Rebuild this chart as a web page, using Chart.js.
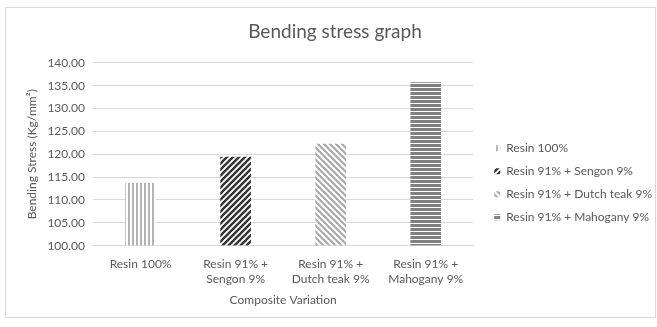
<!DOCTYPE html>
<html>
<head>
<meta charset="utf-8">
<script src="https://cdn.jsdelivr.net/npm/chart.js@4.4.0/dist/chart.umd.min.js"></script>
<style>
  html, body { margin: 0; padding: 0; background: #fff; }
  #chart { position: absolute; left: 0; top: 0; display: block; }
  #frame {
    position: absolute; left: 5px; top: 7px;
    width: 651px; height: 311px; box-sizing: border-box;
    border: 1px solid #d9d9d9; pointer-events: none;
  }
</style>
</head>
<body>
<canvas id="chart" width="657" height="327"></canvas>
<div id="frame"></div>
<script>
// Categories shown on the x axis (multi-line labels)
const categories = [
  ['Resin 100%'],
  ['Resin 91% +', 'Sengon 9%'],
  ['Resin 91% +', 'Dutch teak 9%'],
  ['Resin 91% +', 'Mahogany 9%']
];
// Series names for the legend
const seriesNames = [
  'Resin 100%',
  'Resin 91% + Sengon 9%',
  'Resin 91% + Dutch teak 9%',
  'Resin 91% + Mahogany 9%'
];
// Bending stress values (Kg/mm²), one per composite
const bendingStress = [113.7, 119.4, 122.2, 135.7];
// Y axis range and step
const yMin = 100, yMax = 140, yStep = 5;

const TEXT = '#595959';
const GRID = '#d9d9d9';
const FONT = 'Lato, "Open Sans", sans-serif';

// Build a repeating hatch fill from a small tile
function hatch(size, draw) {
  const c = document.createElement('canvas');
  c.width = size; c.height = size;
  const g = c.getContext('2d');
  g.fillStyle = '#fff';
  g.fillRect(0, 0, size, size);
  draw(g, size);
  return g.createPattern(c, 'repeat');
}
function diag(g, s, color, width, forward) {
  g.strokeStyle = color; g.lineWidth = width; g.lineCap = 'square';
  for (let k = -1; k <= 1; k++) {
    g.beginPath();
    if (forward) { g.moveTo(k * s, s); g.lineTo(k * s + s, 0); }
    else { g.moveTo(k * s, 0); g.lineTo(k * s + s, s); }
    g.stroke();
  }
}
const fills = [
  hatch(4, (g) => { g.fillStyle = '#b4b4b4'; g.fillRect(0, 0, 2, 4); }),
  hatch(6, (g, s) => diag(g, s, '#333333', 2.4, true)),
  hatch(6, (g, s) => diag(g, s, '#a9a9a9', 2.2, false)),
  hatch(4, (g) => { g.fillStyle = '#808080'; g.fillRect(0, 0, 4, 3); })
];

// One dataset per composite, valued only at its own category
const datasets = seriesNames.map((name, i) => ({
  label: name,
  data: bendingStress.map((v, j) => (j === i ? v : null)),
  backgroundColor: fills[i],
  borderWidth: 0,
  base: yMin,
  barThickness: 30
}));

new Chart(document.getElementById('chart'), {
  type: 'bar',
  data: { labels: categories, datasets },
  options: {
    responsive: false,
    animation: false,
    layout: { padding: { left: 8, right: -5, top: 16, bottom: 20 } },
    plugins: {
      title: {
        display: true,
        text: 'Bending stress graph',
        color: TEXT,
        font: { family: FONT, size: 19, weight: 'normal' },
        padding: { top: 4, bottom: 20 }
      },
      legend: {
        position: 'right',
        maxWidth: 200,
        // blank heading that pushes the entries a little lower
        title: { display: true, text: ' ', font: { family: FONT, size: 12 }, padding: { top: 14, bottom: 14 } },
        labels: {
          color: TEXT,
          font: { family: FONT, size: 12 },
          boxWidth: 6,
          boxHeight: 6,
          padding: 11
        }
      },
      tooltip: { enabled: false }
    },
    scales: {
      x: {
        stacked: true,
        grid: { display: false },
        border: { display: true, color: GRID },
        ticks: { color: TEXT, font: { family: FONT, size: 12, lineHeight: 1.33 }, padding: 2, maxRotation: 0 },
        title: {
          display: true, text: 'Composite Variation', color: TEXT,
          font: { family: FONT, size: 12 }, padding: { top: 3, bottom: 0 }
        }
      },
      y: {
        min: yMin, max: yMax,
        grid: { color: GRID, drawTicks: false },
        border: { display: false },
        ticks: {
          stepSize: yStep, color: TEXT, padding: 8,
          font: { family: FONT, size: 12 },
          callback: (v) => v.toFixed(2)
        },
        title: {
          display: true, text: 'Bending Stress (Kg/mm²)', color: TEXT,
          font: { family: FONT, size: 12 }, padding: { top: 17, bottom: 0 }
        }
      },
      // empty spacer between the plot and the legend
      gap: {
        type: 'linear', position: 'right', display: true,
        grid: { display: false }, border: { display: false },
        ticks: { display: false },
        afterFit: (s) => { s.width = 10; }
      }
    }
  }
});
</script>
</body>
</html>
